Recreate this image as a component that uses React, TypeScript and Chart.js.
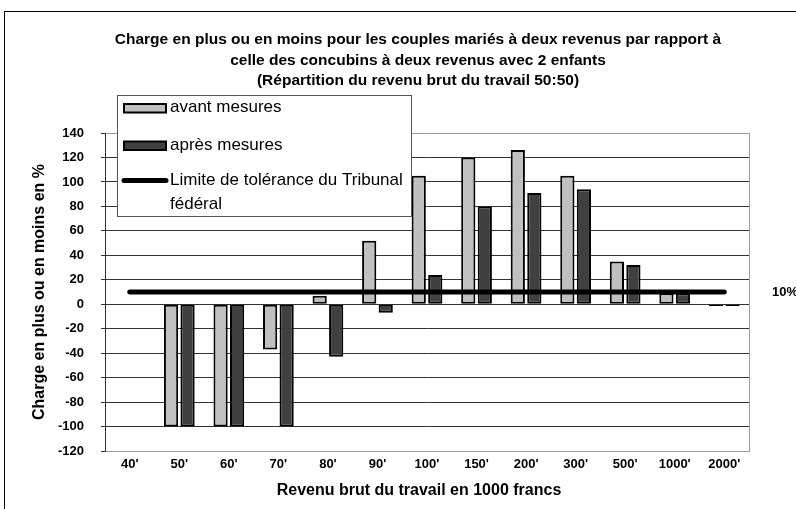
import React, { useEffect, useRef } from "react";
import { Chart, registerables } from "chart.js";

Chart.register(...registerables);

const categories = ["40'", "50'", "60'", "70'", "80'", "90'", "100'", "150'", "200'", "300'", "500'", "1000'", "2000'"];
const avantMesures = [null, -100, -100, -37, 7, 52, 105, 120, 126, 105, 35, 9, -1.5];
const apresMesures = [null, -100, -100, -100, -43, -7, 24, 80, 91, 94, 32, 9, -1.5];
const limiteTolerance = [10, 10, 10, 10, 10, 10, 10, 10, 10, 10, 10, 10, 10];
const limiteLabel = "10%";
const titleLines = [
  "Charge en plus ou en moins pour les couples mariés à deux revenus par rapport à",
  "celle des concubins à deux revenus avec 2 enfants",
  "(Répartition du revenu brut du travail 50:50)",
];
const legendLabels = ["avant mesures", "après mesures", "Limite de tolérance du Tribunal", "fédéral"];
const yTitle = "Charge en plus ou en moins en %";
const xTitle = "Revenu brut du travail en 1000 francs";

const FONT = "'Liberation Sans', Arial, sans-serif";
const LIGHT = "#c0c0c0";
const DARK = "#404040";

const decorPlugin = {
  id: "decor",
  beforeDraw(chart: any) {
    const { ctx, width, height } = chart;
    ctx.save();
    ctx.fillStyle = "#ffffff";
    ctx.fillRect(0, 0, width, height);
    ctx.strokeStyle = "#000000";
    ctx.lineWidth = 1;
    ctx.strokeRect(4.5, 11.5, width + 50, height + 50);
    ctx.fillStyle = "#000";
    ctx.font = `bold 15.5px ${FONT}`;
    ctx.textAlign = "center";
    ctx.textBaseline = "middle";
    const ys = [40, 61, 81];
    titleLines.forEach((t, i) => ctx.fillText(t, 418, ys[i]));
    ctx.font = `bold 16px ${FONT}`;
    ctx.fillText(xTitle, 419, 491);
    ctx.restore();
  },
  beforeDatasetsDraw(chart: any) {
    const { ctx, chartArea } = chart;
    ctx.save();
    ctx.strokeStyle = "#999999";
    ctx.lineWidth = 1;
    ctx.beginPath();
    ctx.moveTo(Math.round(chartArea.right) + 0.5, chartArea.top);
    ctx.lineTo(Math.round(chartArea.right) + 0.5, chartArea.bottom);
    ctx.stroke();
    ctx.restore();
  },
  afterDraw(chart: any) {
    const { ctx } = chart;
    const y = chart.scales.y.getPixelForValue(limiteTolerance[limiteTolerance.length - 1]);
    ctx.save();
    ctx.fillStyle = "#000";
    ctx.font = `bold 13px ${FONT}`;
    ctx.textAlign = "left";
    ctx.textBaseline = "middle";
    ctx.fillText(limiteLabel, 772, y);

    ctx.fillStyle = "#fff";
    ctx.fillRect(117.5, 95.5, 294, 121);
    ctx.strokeStyle = "#555";
    ctx.lineWidth = 1;
    ctx.strokeRect(117.5, 95.5, 294, 121);
    ctx.lineWidth = 2;
    ctx.strokeStyle = "#000";
    ctx.fillStyle = LIGHT;
    ctx.fillRect(124, 104, 42, 8.5);
    ctx.strokeRect(124, 104, 42, 8.5);
    ctx.fillStyle = DARK;
    ctx.fillRect(124, 141.5, 42, 8.5);
    ctx.strokeRect(124, 141.5, 42, 8.5);
    ctx.lineWidth = 5;
    ctx.lineCap = "round";
    ctx.beginPath();
    ctx.moveTo(124, 180.5);
    ctx.lineTo(166, 180.5);
    ctx.stroke();
    ctx.fillStyle = "#000";
    ctx.font = `17px ${FONT}`;
    ctx.textAlign = "left";
    ctx.textBaseline = "middle";
    ctx.fillText(legendLabels[0], 170, 107);
    ctx.fillText(legendLabels[1], 170, 145);
    ctx.fillText(legendLabels[2], 170, 180);
    ctx.fillText(legendLabels[3], 170, 204);
    ctx.restore();
  },
};

export default function App() {
  const ref = useRef<HTMLCanvasElement | null>(null);
  useEffect(() => {
    if (!ref.current) return;
    const barCommon = {
      borderColor: "#000",
      borderWidth: 2,
      borderSkipped: false,
      categoryPercentage: 0.667,
      barPercentage: 0.86,
      order: 1,
    };
    const chart = new Chart(ref.current, {
      type: "bar",
      data: {
        labels: categories,
        datasets: [
          {
            type: "line",
            label: legendLabels[2],
            data: limiteTolerance,
            borderColor: "#000",
            borderWidth: 5,
            borderCapStyle: "round",
            pointRadius: 0,
            fill: false,
            order: 0,
          } as any,
          { label: legendLabels[0], data: avantMesures, backgroundColor: LIGHT, ...barCommon },
          { label: legendLabels[1], data: apresMesures, backgroundColor: DARK, ...barCommon },
        ],
      },
      options: {
        responsive: false,
        animation: false,
        devicePixelRatio: 1,
        layout: { padding: { top: 133, left: 10, right: 47, bottom: 4 } },
        plugins: {
          legend: { display: false },
          title: { display: false },
          tooltip: { enabled: false },
        },
        scales: {
          x: {
            grid: { display: false, drawTicks: false },
            border: { display: true, color: "#999999", width: 1 },
            ticks: {
              color: "#000",
              font: { family: FONT, size: 13, weight: "bold" },
              padding: 6,
              maxRotation: 0,
              autoSkip: false,
            },
            title: { display: false },
            afterFit: (s: any) => {
              s.height = 54;
            },
          },
          y: {
            min: -120,
            max: 140,
            ticks: {
              stepSize: 20,
              color: "#000",
              font: { family: FONT, size: 13, weight: "bold" },
              padding: 17,
            },
            grid: {
              color: (c: any) => (c.tick && (c.tick.value === 140 || c.tick.value === -120) ? "#999999" : "#333333"),
              tickColor: "#333333",
              tickLength: 4,
              lineWidth: 1,
            },
            border: { display: true, color: "#333333", width: 1 },
            title: {
              display: true,
              text: yTitle,
              color: "#000",
              font: { family: FONT, size: 16, weight: "bold" },
              padding: { top: 20, bottom: 0 },
            },
            afterFit: (s: any) => {
              s.width = 95;
            },
          },
        },
      },
      plugins: [decorPlugin],
    });
    return () => chart.destroy();
  }, []);
  return (
    <div style={{ position: "fixed", left: 0, top: 0, width: 796, height: 509, background: "#fff" }}>
      <canvas ref={ref} width={796} height={509} style={{ display: "block", width: 796, height: 509 }} />
    </div>
  );
}
